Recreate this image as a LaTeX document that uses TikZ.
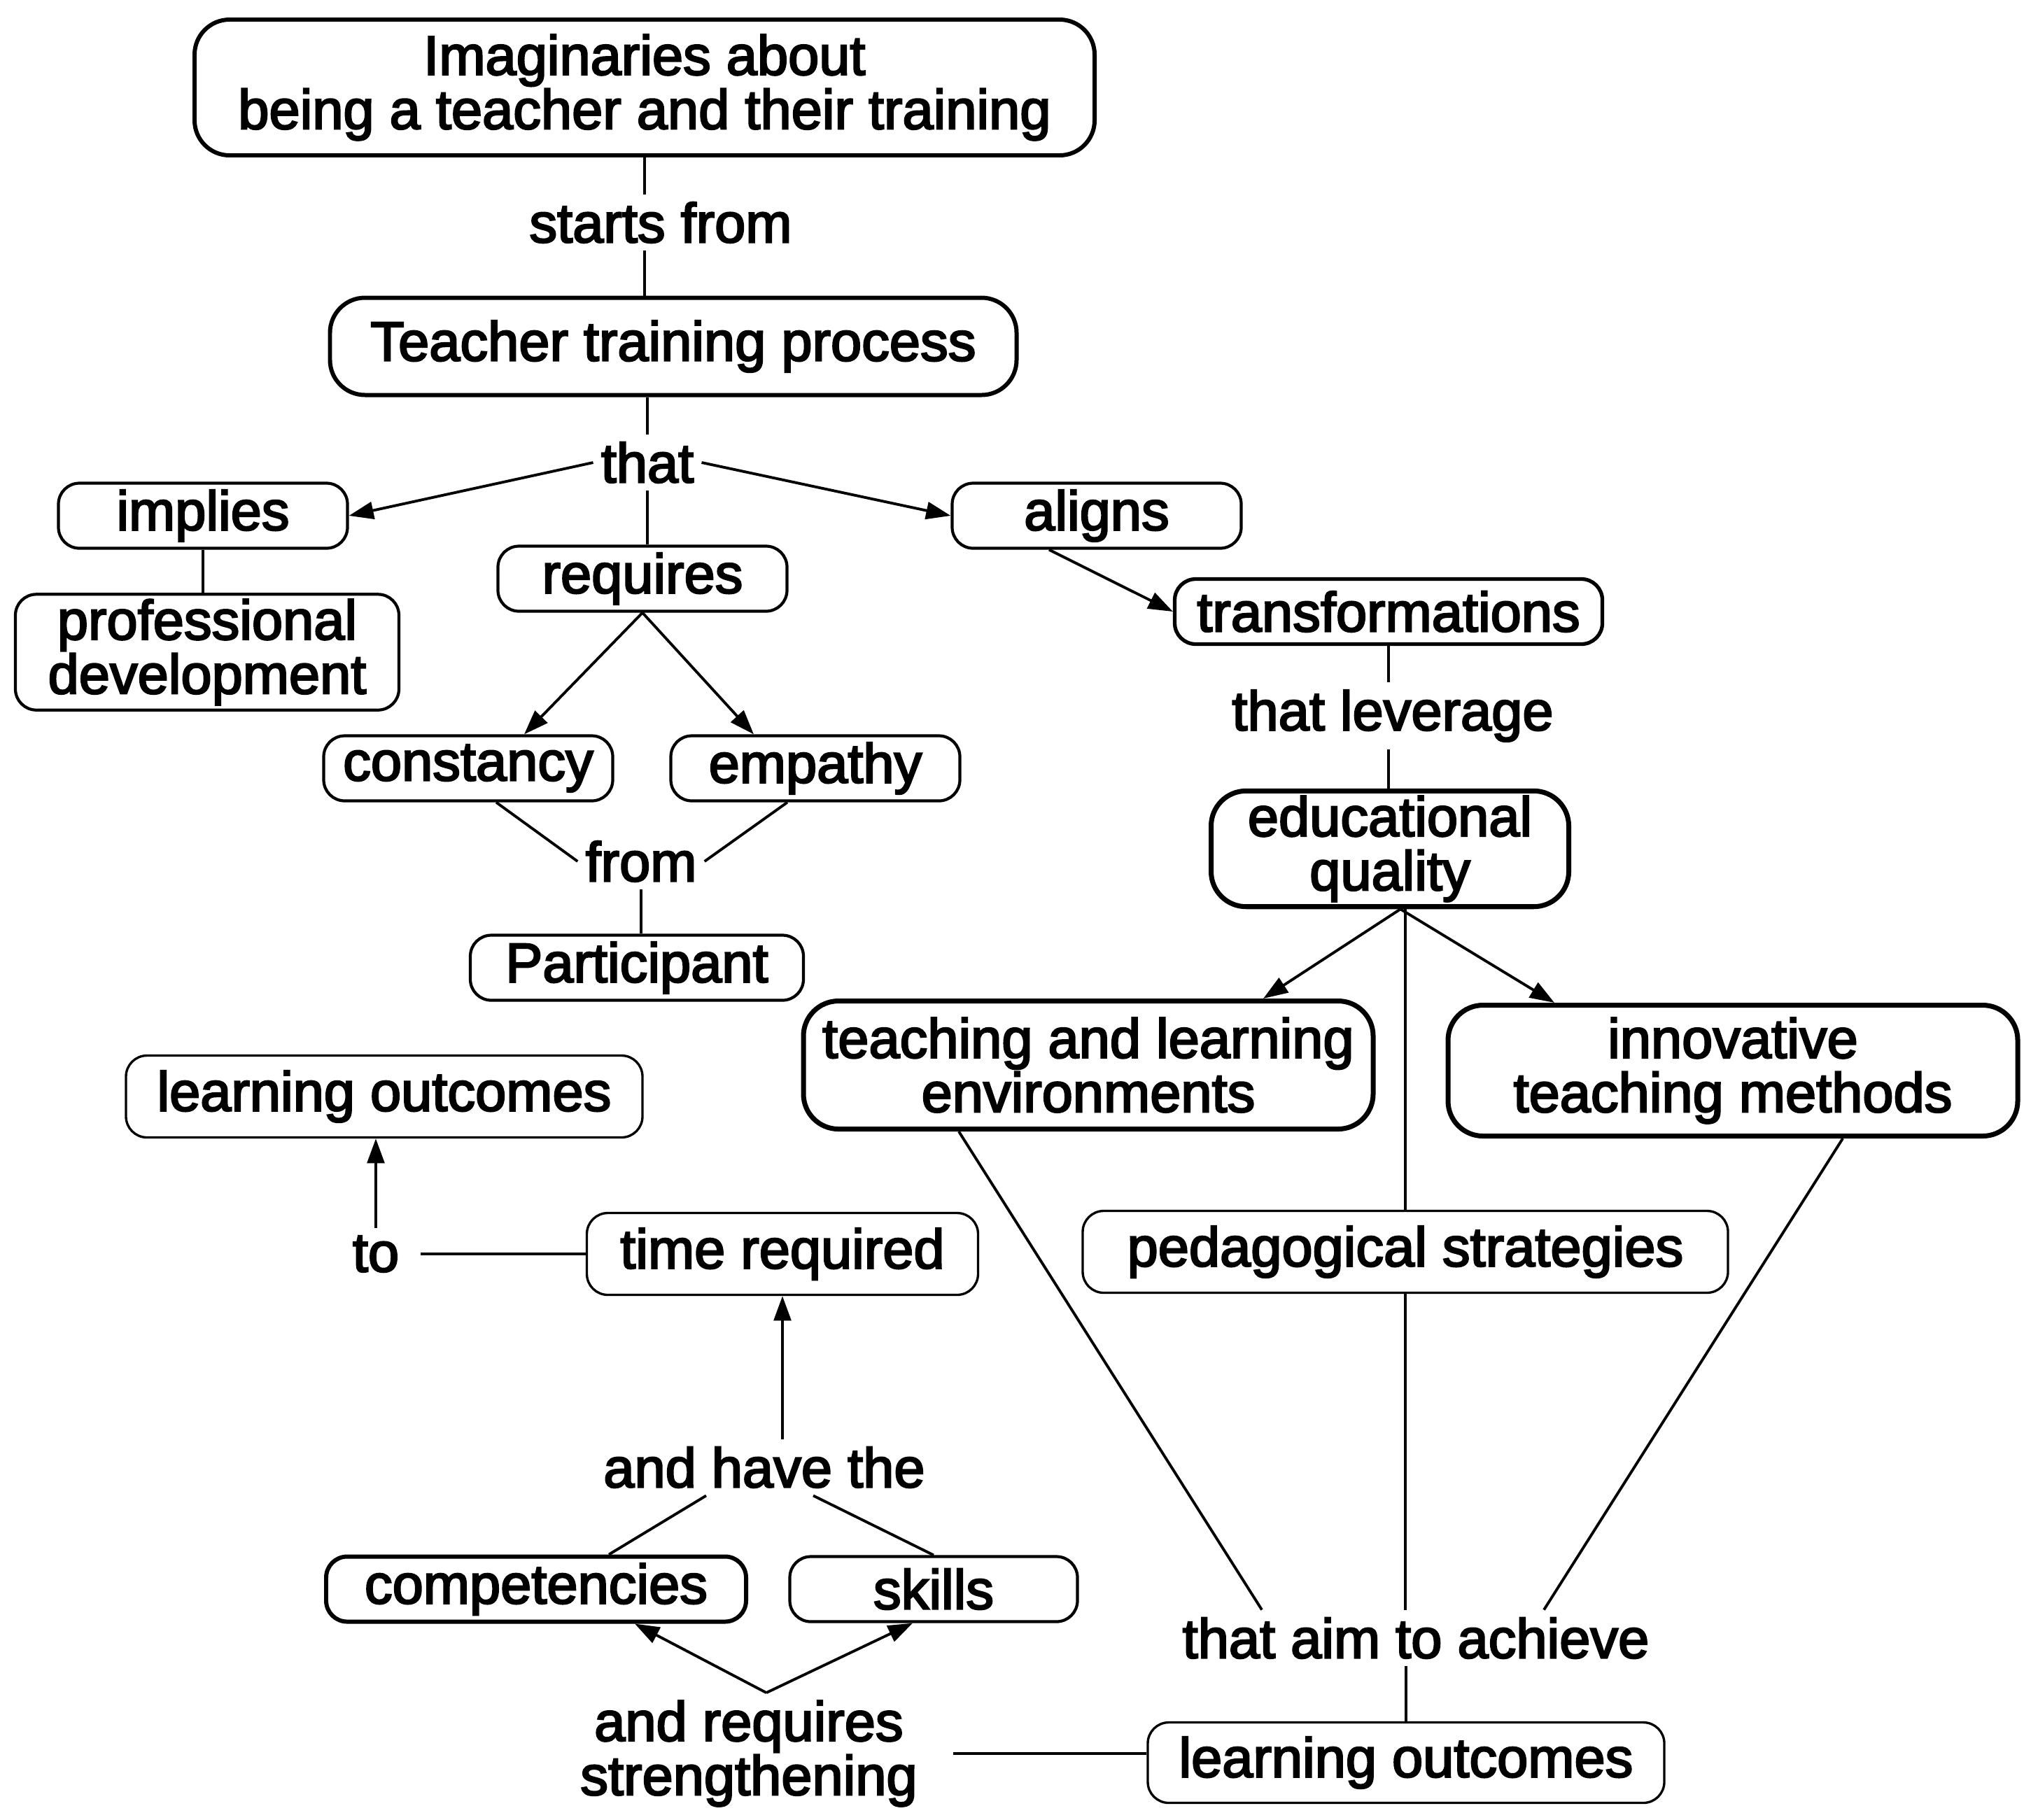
\documentclass[tikz,border=0pt]{standalone}
\usepackage{fontspec}
\setmainfont{Liberation Sans}[FakeBold=3]
\usetikzlibrary{arrows.meta}
\tikzset{
  concept/.style={draw, rounded corners=0.3cm, line width=1.2pt, minimum width=4.13cm, minimum height=0.93cm, inner sep=2pt, align=center},
  bigconcept/.style={concept, line width=1.7pt, rounded corners=0.5cm},
  thinconcept/.style={concept, line width=0.95pt},
  linkword/.style={inner sep=3pt, align=center},
  link/.style={line width=1.1pt},
  arrowlink/.style={link, -{Triangle[length=10pt,width=7pt]}}
}
\begin{document}
\begin{tikzpicture}[every node/.style={font=\fontsize{22.6}{22}\selectfont}]
    \useasboundingbox (0,0) rectangle (29.02,-26.0);
    \node[bigconcept, minimum width=12.86cm, minimum height=1.94cm] (imag) at (9.21,-1.25) {Imaginaries about\\being a teacher and their training};
    \node[linkword] (startsfrom) at (9.44,-3.18) {starts from};
    \node[bigconcept, minimum width=9.81cm, minimum height=1.39cm] (teacher) at (9.62,-4.95) {Teacher training process};
    \node[linkword] (that) at (9.25,-6.61) {that};
    \node[concept] (implies) at (2.90,-7.37) {implies};
    \node[concept, minimum width=5.48cm, minimum height=1.54cm] (profdev) at (2.96,-9.32) {professional\\development};
    \node[concept] (requires) at (9.18,-8.27) {requires};
    \node[concept] (aligns) at (15.67,-7.37) {aligns};
    \node[concept, line width=1.5pt, minimum width=6.11cm] (transf) at (19.84,-8.74) {transformations};
    \node[concept] (constancy) at (6.69,-10.98) {constancy};
    \node[concept] (empathy) at (11.65,-10.98) {empathy};
    \node[linkword] (from) at (9.16,-12.31) {from};
    \node[concept, minimum width=4.76cm] (particip) at (9.10,-13.83) {Participant};
    \node[linkword] (leverage) at (19.90,-10.23) {that leverage};
    \node[bigconcept, line width=2pt, minimum width=5.11cm, minimum height=1.65cm] (eduq) at (19.86,-12.13) {educational\\quality};
    \node[bigconcept, line width=2pt, minimum width=8.14cm, minimum height=1.83cm] (tle) at (15.55,-15.22) {teaching and learning\\environments};
    \node[bigconcept, line width=2pt, minimum width=8.14cm, minimum height=1.87cm] (itm) at (24.76,-15.30) {innovative\\teaching methods};
    \node[thinconcept, minimum width=9.22cm, minimum height=1.17cm] (pedstrat) at (20.08,-17.89) {pedagogical strategies};
    \node[linkword] (aim) at (20.23,-23.41) {that aim to achieve};
    \node[thinconcept, minimum width=7.38cm, minimum height=1.15cm] (outcomesb) at (20.09,-25.19) {learning outcomes};
    \node[linkword] (strength) at (10.70,-25.06) {and requires\\strengthening};
    \node[bigconcept, rounded corners=0.3cm, minimum width=6.00cm] (compet) at (7.66,-22.71) {competencies};
    \node[concept, minimum width=4.11cm] (skills) at (13.34,-22.71) {skills};
    \node[linkword] (havethe) at (10.92,-20.97) {and have the};
    \node[thinconcept, minimum width=5.59cm, minimum height=1.17cm] (timereq) at (11.18,-17.92) {time required};
    \node[linkword] (to) at (5.37,-17.92) {to};
    \node[thinconcept, minimum width=7.38cm, minimum height=1.17cm] (outcomesa) at (5.49,-15.67) {learning outcomes};

    \draw[link] (imag.south) -- (imag.south |- startsfrom.north);
    \draw[link] (imag.south |- startsfrom.south) -- (imag.south |- teacher.north);
    \draw[link] (that.north |- teacher.south) -- (that.north);
    \draw[arrowlink] (that.west) -- (implies.east);
    \draw[arrowlink] (that.east) -- (aligns.west);
    \draw[link] (that.south) -- (that.south |- requires.north);
    \draw[link] (implies.south) -- (implies.south |- profdev.north);
    \draw[arrowlink] (requires.south) -- ([xshift=0.8cm]constancy.north);
    \draw[arrowlink] (requires.south) -- ([xshift=-0.88cm]empathy.north);
    \draw[link] ([xshift=0.4cm]constancy.south) -- (from.west);
    \draw[link] ([xshift=-0.4cm]empathy.south) -- (from.east);
    \draw[link] (from.south) -- (from.south |- particip.north);
    \draw[arrowlink] ([xshift=-0.68cm]aligns.south) -- (transf.west);
    \draw[link] (transf.south) -- (transf.south |- leverage.north);
    \draw[link] (transf.south |- leverage.south) -- (transf.south |- eduq.north);
    \draw[arrowlink] ([xshift=0.15cm]eduq.south) -- ([xshift=2.5cm]tle.north);
    \draw[arrowlink] ([xshift=0.15cm]eduq.south) -- ([xshift=-2.55cm]itm.north);
    \draw[link] (pedstrat.north |- eduq.south) -- (pedstrat.north);
    \draw[link] ([xshift=-1.85cm]tle.south) -- ([xshift=-2.2cm]aim.north);
    \draw[link] ([xshift=1.57cm]itm.south) -- ([xshift=1.83cm]aim.north);
    \draw[link] (pedstrat.south) -- (pedstrat.south |- aim.north);
    \draw[link] (outcomesb.north |- aim.south) -- (outcomesb.north);
    \draw[link, shorten <=0.4cm] (strength.east) -- (strength.east -| outcomesb.west);
    \draw[arrowlink] ([xshift=0.25cm]strength.north) -- ([xshift=1.41cm]compet.south);
    \draw[arrowlink] ([xshift=0.25cm]strength.north) -- ([xshift=-0.3cm]skills.south);
    \draw[link] ([xshift=-0.83cm]havethe.south) -- ([xshift=1.04cm]compet.north);
    \draw[link] ([xshift=0.7cm]havethe.south) -- (skills.north);
    \draw[arrowlink] (timereq.south |- havethe.north) -- (timereq.south);
    \draw[link, shorten <=0.2cm] (to.east) -- (timereq.west);
    \draw[arrowlink] (to.north) -- (to.north |- outcomesa.south);
\end{tikzpicture}
\end{document}
